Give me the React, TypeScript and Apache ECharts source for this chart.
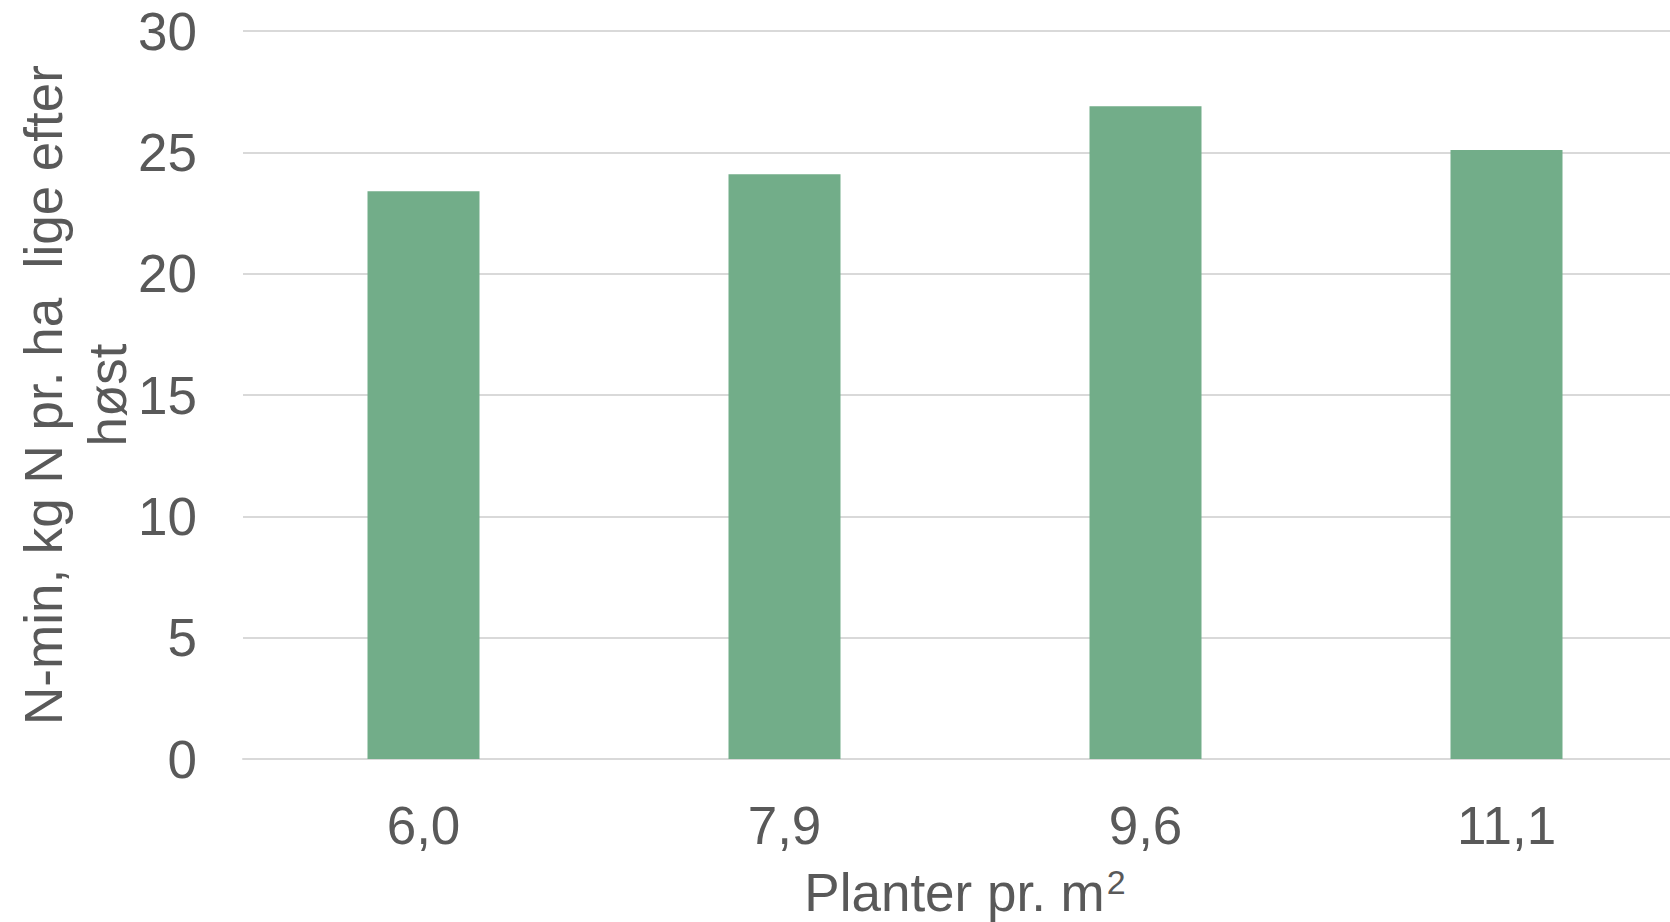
import React, { useEffect, useRef } from "react";
import * as echarts from "echarts";

const categories = ["6,0", "7,9", "9,6", "11,1"];
const values = [23.4, 24.1, 26.9, 25.1];
const yTicks = { min: 0, max: 30, interval: 5 };
const xTitle = "Planter pr. m{sup|2}";
const yTitle = "N-min, kg N pr. ha  lige efter\nhøst";

export default function App() {
  const ref = useRef<HTMLDivElement>(null);
  useEffect(() => {
    document.body.style.margin = "0";
    const chart = echarts.init(ref.current!, null, { renderer: "svg" });
    const font = "Liberation Sans, Arial, sans-serif";
    const col = "#595959";
    const fs = 53;
    chart.setOption({
      animation: false,
      grid: {
        left: 243,
        right: -17,
        top: 31,
        bottom: 163,
        containLabel: false,
        outerBoundsMode: "none",
      },
      xAxis: {
        type: "category",
        data: categories,
        axisLine: { show: true, lineStyle: { color: "#d9d9d9", width: 2 } },
        axisTick: { show: false },
        axisLabel: { color: col, fontSize: fs, fontFamily: font, margin: 40 },
        name: xTitle,
        nameLocation: "middle",
        nameGap: 106,
        nameTextStyle: {
          color: col,
          fontSize: fs,
          fontFamily: font,
          rich: {
            sup: {
              color: col,
              fontSize: 34,
              fontFamily: font,
              verticalAlign: "top",
              padding: [0, 0, 20, 2],
            },
          },
        },
      },
      yAxis: {
        type: "value",
        min: yTicks.min,
        max: yTicks.max,
        interval: yTicks.interval,
        axisLine: { show: false },
        axisTick: { show: false },
        splitLine: { lineStyle: { color: "#d9d9d9", width: 2 } },
        axisLabel: { color: col, fontSize: fs, fontFamily: font, margin: 46 },
      },
      graphic: [
        {
          type: "text",
          x: 75,
          y: 395,
          rotation: Math.PI / 2,
          style: {
            text: yTitle,
            fill: col,
            font: `${fs}px ${font}`,
            align: "center",
            verticalAlign: "middle",
            lineHeight: 64,
          },
        },
      ],
      series: [
        {
          type: "bar",
          data: values,
          barWidth: 112,
          itemStyle: { color: "#72ad89" },
        },
      ],
    });
    return () => chart.dispose();
  }, []);
  return <div ref={ref} style={{ width: 1670, height: 922 }} />;
}
